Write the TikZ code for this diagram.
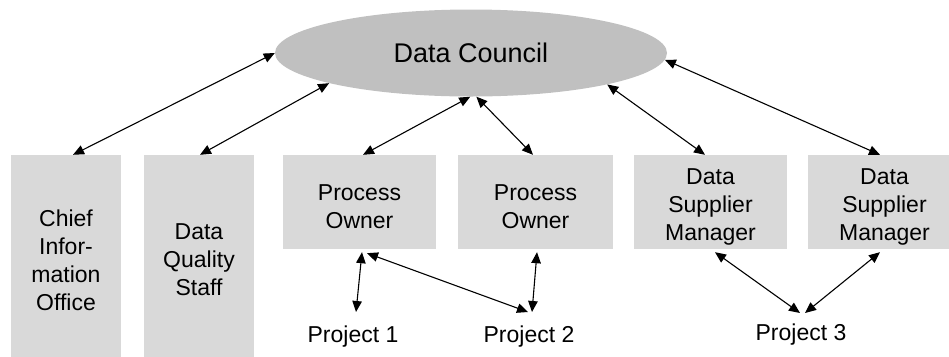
\documentclass[tikz,border=0pt]{standalone}
\usepackage{fontspec}
\setmainfont{Liberation Sans}
\usetikzlibrary{arrows.meta,shapes.geometric}
\definecolor{councilgray}{RGB}{192,192,192}
\definecolor{boxgray}{RGB}{217,217,217}
% a tall invisible strut that lowers a centred block of lines a little
\newcommand{\lowstart}{\rule{0pt}{26bp}}
\tikzset{
  council/.style={ellipse, fill=councilgray, inner sep=0pt,
    minimum width=392bp, minimum height=87bp,
    font=\fontsize{27bp}{31bp}\selectfont},
  rolebox/.style={rectangle, fill=boxgray, inner sep=0pt, align=center,
    minimum height=94bp, font=\fontsize{23bp}{28bp}\selectfont},
  tallbox/.style={rolebox, minimum width=110bp, minimum height=210bp},
  widebox/.style={rolebox, minimum width=153bp},
  project/.style={inner sep=0pt, font=\fontsize{23bp}{27bp}\selectfont},
  link/.style={line width=1.1bp, {Triangle[length=11bp,width=9.5bp]}-{Triangle[length=11bp,width=9.5bp]}}
}
\begin{document}
\begin{tikzpicture}[x=1bp,y=-1bp]
\useasboundingbox (0,0) rectangle (949,356);

% central council
\node[council] (dc) at (471,53) {Data Council};

% roles
\node[tallbox] (cio) at (66,260) {Chief\\Infor-\\mation\\Office};
\node[tallbox] (dqs) at (199,260) {Data\\Quality\\Staff};
\node[widebox] (po1) at (359.5,202) {\lowstart Process\\Owner};
\node[widebox, minimum width=155bp] (po2) at (535.5,202) {\lowstart Process\\Owner};
\node[widebox] (dsm1) at (710.5,202) {\lowstart Data\\Supplier\\Manager};
\node[widebox] (dsm2) at (884.5,202) {\lowstart Data\\Supplier\\Manager};

% projects
\node[project] (p1) at (353,337) {Project 1};
\node[project] (p2) at (529,337) {Project 2};
\node[project] (p3) at (801,335) {Project 3};

% council links
\draw[link] ([xshift=7bp]cio.north) -- (dc.180);
\draw[link] ([xshift=1bp]dqs.north) -- (dc.192.8);
\draw[link] ([xshift=3.5bp]po1.north) -- (dc.269);
\draw[link] (dc.277) -- ([xshift=-2.5bp]po2.north);
\draw[link] (dc.347) -- ([xshift=-5.5bp]dsm1.north);
\draw[link] (dc.358.5) -- ([xshift=-4.5bp]dsm2.north);

% project links
\draw[link] ([xshift=2.5bp,yshift=-3bp]po1.south) -- ([xshift=3bp,yshift=25bp]p1.center);
\draw[link] ([xshift=7.5bp,yshift=-4bp]po1.south) -- ([xshift=-1bp,yshift=25bp]p2.center);
\draw[link] ([xshift=1.5bp,yshift=-3bp]po2.south) -- ([xshift=3bp,yshift=25bp]p2.center);
\draw[link] ([xshift=4.5bp,yshift=-3bp]dsm1.south) -- ([xshift=-1bp,yshift=22bp]p3.center);
\draw[link] ([xshift=-4.5bp,yshift=-3bp]dsm2.south) -- ([xshift=4bp,yshift=22bp]p3.center);
\end{tikzpicture}
\end{document}
